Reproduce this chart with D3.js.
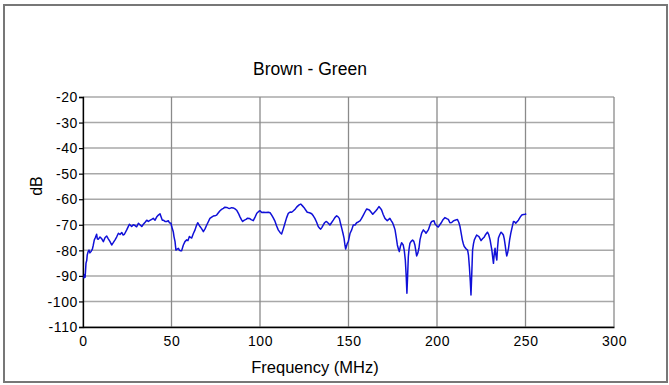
<!DOCTYPE html>
<html>
<head>
<meta charset="utf-8">
<script src="https://cdn.jsdelivr.net/npm/d3@7/dist/d3.min.js"></script>
<style>
  html, body { margin: 0; padding: 0; background: #fff; }
  svg { display: block; }
  text { font-family: "Liberation Sans", Arial, sans-serif; fill: #000; }
</style>
</head>
<body>
<svg id="chart" width="669" height="385"></svg>
<script>
const chartTitle = "Brown - Green";
const xAxisTitle = "Frequency (MHz)";
const yAxisTitle = "dB";
const xTicks = [0, 50, 100, 150, 200, 250, 300];
const yTicks = [-20, -30, -40, -50, -60, -70, -80, -90, -100, -110];

const freqMHz = [
  0.5,0.9,1.2,1.7,2.1,2.4,2.9,3.4,3.9,4.5,5.3,5.8,6.4,7.0,7.7,8.1,8.6,9.6,10.6,11.5,
  12.5,13.4,14.3,15.2,16.2,17.1,18.1,19.0,20.0,20.9,21.9,22.6,23.4,24.7,25.5,26.2,27.5,28.4,29.4,30.3,
  31.3,32.2,33.2,34.1,35.1,36.0,36.9,37.8,38.8,39.7,40.7,41.6,42.6,43.5,44.8,45.4,46.3,47.3,48.2,48.8,
  49.7,50.1,51.0,51.4,52.0,52.5,53.2,53.9,54.5,55.2,55.7,56.7,57.6,58.6,59.3,60.1,61.4,62.3,63.3,64.0,
  64.8,66.1,67.0,68.0,69.0,69.9,70.8,71.7,72.7,73.6,74.5,75.5,76.5,77.4,78.3,79.3,80.2,81.2,82.1,83.0,
  84.0,84.9,85.9,86.8,87.8,88.7,89.5,90.2,91.2,92.1,93.0,94.0,95.0,96.2,97.2,98.2,99.1,100.0,101.0,101.9,
  103.3,104.7,105.7,106.6,107.5,108.5,109.4,110.3,111.3,112.2,113.2,114.1,115.0,116.0,117.0,117.9,118.9,119.8,120.7,121.6,
  122.3,123.0,124.0,124.8,125.8,126.7,128.0,129.2,130.1,131.0,132.0,132.9,133.6,134.3,135.0,135.7,136.5,137.3,138.0,138.6,
  139.5,140.4,141.4,142.3,143.3,144.0,144.8,145.5,146.2,146.9,147.5,148.0,148.4,149.3,149.9,150.9,151.8,152.7,153.7,154.6,
  155.5,156.5,157.4,158.4,159.3,160.3,161.8,162.7,163.7,164.6,165.5,166.4,167.2,168.0,168.7,169.6,170.6,171.9,173.4,174.2,
  174.9,175.6,176.3,177.0,177.6,178.2,178.7,179.3,180.0,180.9,181.5,182.1,182.6,183.0,183.4,183.8,184.2,184.7,185.4,186.2,
  186.9,187.5,188.0,188.5,189.2,189.8,190.4,191.3,192.3,193.2,193.8,195.1,196.4,197.0,198.3,198.9,200.0,200.7,201.6,202.6,
  203.5,204.5,205.5,206.4,207.3,208.3,209.2,210.2,211.5,212.3,213.0,213.7,214.3,214.9,215.4,216.4,217.3,217.8,218.3,218.8,
  219.2,219.6,220.1,220.6,221.1,222.4,223.7,224.9,225.7,226.6,227.5,228.5,229.2,230.0,230.5,231.0,231.5,231.9,232.4,232.8,
  233.3,233.8,234.2,234.7,235.5,236.2,236.8,237.5,238.0,238.5,239.0,239.4,239.9,240.4,241.0,241.7,242.5,243.2,243.8,244.5,
  245.2,246.0,247.0,247.9,248.8,249.8,250.4
];
const levelDB = [
  -91,-89.5,-90.5,-85,-84,-81.8,-80.5,-79.9,-81,-80.5,-79.5,-78,-75.9,-75,-73.7,-75.5,-75.7,-74.8,-75.5,-76.6,
  -75,-74.4,-75.5,-76.5,-77.9,-77,-75.9,-74.8,-73.3,-73.8,-73,-74,-73.7,-72,-70.8,-69.8,-70.7,-70,-70.3,-70.8,
  -69.4,-70,-70.7,-69.8,-69,-68.2,-68.7,-68.3,-67.9,-67.5,-68.2,-67,-66.2,-65.7,-68.2,-68.2,-68.7,-68.7,-68.4,-69.2,
  -69.4,-70.7,-72.7,-74.6,-76.6,-79.9,-79.5,-79.2,-80,-80.2,-80.2,-77.9,-76.6,-75.9,-76.2,-74.6,-75.2,-73.5,-72,-70.5,
  -69.2,-70.7,-71.5,-72.7,-71.5,-70.1,-68.8,-67.5,-67,-66.6,-66.5,-66.2,-65.3,-64.5,-64,-63.6,-63.1,-63.2,-63.5,-63.6,
  -63.3,-63.4,-63.8,-64.3,-65.5,-66.9,-68,-68.7,-68.2,-67.9,-67.4,-67.5,-68,-68.4,-67,-65.5,-64.9,-64.5,-65.2,-65.1,
  -65.2,-65.1,-65.3,-66.2,-67.3,-68.7,-70.5,-72,-73,-73.6,-71.5,-69.4,-67.3,-65.5,-65,-65.1,-64.5,-63.9,-63.1,-62.5,
  -62.1,-61.9,-62.6,-63.2,-64.2,-65.1,-65.3,-65.7,-66.5,-67.5,-69,-70.7,-71.3,-71.7,-71,-70.1,-69.2,-68.7,-69,-69.4,
  -70.1,-69.2,-68.2,-67.2,-66.5,-66.8,-67.5,-69.5,-71.4,-73.4,-75.3,-78,-79.5,-77.3,-76.6,-73.3,-72,-70.1,-70.1,-69.2,
  -68.9,-68.5,-67.5,-66.2,-65,-63.8,-64.2,-65,-65.9,-65.2,-64.5,-63.7,-62.9,-63.5,-64.2,-66,-67.5,-68.4,-67.5,-68.5,
  -69.2,-70.5,-72,-75,-77.9,-79.5,-80.5,-78.5,-77,-77.9,-80,-83.8,-90,-96.8,-90,-82.5,-79.5,-77.3,-76.5,-76,
  -76.5,-77.9,-80,-82.2,-81,-79.2,-75.8,-73.3,-72,-72.7,-73.3,-72,-69.4,-68.7,-68.4,-69.7,-70.5,-70.9,-70,-69,
  -67.9,-67.2,-67.6,-67.9,-69.2,-69.1,-68.5,-68.2,-67.9,-69,-70.7,-73.5,-75.9,-77.5,-78.5,-79.4,-79.9,-82,-86.4,-92,
  -97.5,-90,-79.9,-77.5,-75.9,-74,-74.6,-76.2,-75.5,-74.9,-73.8,-72.9,-73.8,-75.9,-78,-79.9,-83,-85.1,-81,-79.2,
  -82,-83.8,-79,-75.2,-73.8,-72.9,-73.3,-74,-75.5,-77.9,-80.5,-82.2,-81,-79.2,-76,-73.3,-70.8,-68.7,-68.8,-69.4,
  -68.8,-68.2,-67,-66.2,-66,-65.9,-65.7
];

const svg = d3.select("#chart");
const W = 669, H = 385;
const plot = { left: 83, right: 614, top: 97, bottom: 327 };

svg.append("rect").attr("x", 0).attr("y", 0).attr("width", W).attr("height", H).attr("fill", "#fff");
svg.append("rect")
  .attr("x", 4).attr("y", 5).attr("width", 663).attr("height", 377)
  .attr("fill", "none").attr("stroke", "#777").attr("stroke-width", 2);

const x = d3.scaleLinear().domain([0, 300]).range([plot.left, plot.right]);
const y = d3.scaleLinear().domain([-110, -20]).range([plot.bottom, plot.top]);

// gridlines
svg.append("g").selectAll("line").data(yTicks).join("line")
  .attr("x1", plot.left).attr("x2", plot.right)
  .attr("y1", d => y(d)).attr("y2", d => y(d))
  .attr("stroke", "#a8a8a8").attr("stroke-width", 1.5);
svg.append("g").selectAll("line").data(xTicks).join("line")
  .attr("x1", d => x(d)).attr("x2", d => x(d))
  .attr("y1", plot.top).attr("y2", plot.bottom)
  .attr("stroke", "#8a8a8a").attr("stroke-width", 1.3);

// axes
const plainFormat = d => String(d);
const yAxis = d3.axisLeft(y).tickValues(yTicks).tickSize(4).tickPadding(1).tickFormat(plainFormat);
const gy = svg.append("g").attr("transform", `translate(${plot.left},0)`).call(yAxis);
gy.select(".domain").attr("stroke", "#000").attr("stroke-width", 1.3);
gy.selectAll(".tick line").attr("stroke", "#000").attr("stroke-width", 1.2);
gy.selectAll("text").attr("font-size", 14).attr("letter-spacing", "0.6px").attr("dy", "0.34em")
  .style("font-family", '"Liberation Sans", Arial, sans-serif');

const xAxis = d3.axisBottom(x).tickValues(xTicks).tickSize(0).tickPadding(9).tickFormat(plainFormat);
const gx = svg.append("g").attr("transform", `translate(0,${plot.bottom})`).call(xAxis);
gx.select(".domain").attr("stroke", "#000").attr("stroke-width", 1.3);
gx.selectAll("text").attr("font-size", 14).attr("letter-spacing", "0.6px")
  .style("font-family", '"Liberation Sans", Arial, sans-serif');

// data line
const pts = freqMHz.map((f, i) => [f, levelDB[i]]);
svg.append("path").datum(pts)
  .attr("fill", "none").attr("stroke", "#1010d8").attr("stroke-width", 1.5)
  .attr("stroke-linejoin", "round")
  .attr("d", d3.line().x(d => x(d[0])).y(d => y(d[1])));

// titles
svg.append("text").attr("x", 310).attr("y", 75).attr("text-anchor", "middle")
  .attr("font-size", 17.5).text(chartTitle);
svg.append("text").attr("x", 315).attr("y", 373).attr("text-anchor", "middle")
  .attr("font-size", 16.5).text(xAxisTitle);
svg.append("text").attr("transform", "translate(42,186) rotate(-90)").attr("text-anchor", "middle")
  .attr("font-size", 16).text(yAxisTitle);
</script>
</body>
</html>
